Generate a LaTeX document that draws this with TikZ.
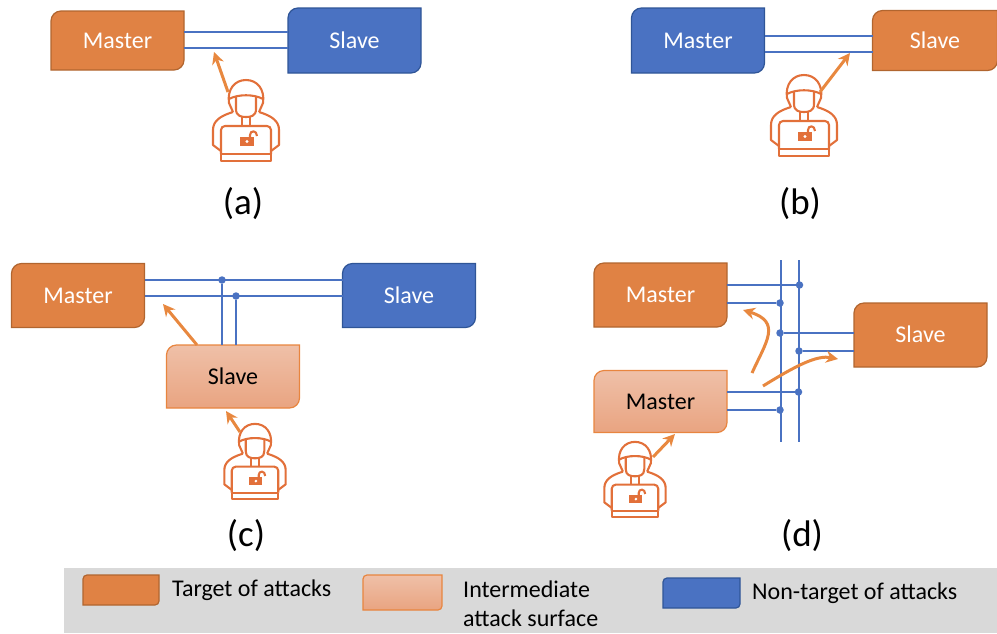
\documentclass[tikz,border=0pt]{standalone}
\usepackage{fontspec}
\setmainfont{Carlito}
\usetikzlibrary{positioning, arrows.meta}
\definecolor{targetfill}{HTML}{E08244}
\definecolor{targetline}{HTML}{B1652F}
\definecolor{safefill}{HTML}{4A72C2}
\definecolor{safeline}{HTML}{2F5597}
\definecolor{peachtop}{HTML}{EFC0A8}
\definecolor{peachbot}{HTML}{E9A481}
\definecolor{peachline}{HTML}{E8853F}
\definecolor{hackline}{HTML}{E2703A}
\definecolor{attackline}{HTML}{E8883F}
\definecolor{busline}{HTML}{4A72C2}
\definecolor{legendgrey}{HTML}{D9D9D9}

\makeatletter
\def\platerad{10pt}
\pgfdeclareshape{plate}{
  \inheritsavedanchors[from=rectangle]
  \inheritanchorborder[from=rectangle]
  \inheritanchor[from=rectangle]{center}
  \inheritanchor[from=rectangle]{north}
  \inheritanchor[from=rectangle]{south}
  \inheritanchor[from=rectangle]{east}
  \inheritanchor[from=rectangle]{west}
  \backgroundpath{
    \southwest \pgf@xa=\pgf@x \pgf@ya=\pgf@y
    \northeast \pgf@xb=\pgf@x \pgf@yb=\pgf@y
    \pgfpathmoveto{\pgfqpoint{\pgf@xa}{\pgf@ya}}
    \pgfpathlineto{\pgfpoint{\pgf@xa}{\pgf@yb-\platerad}}
    \pgfpatharc{180}{90}{\platerad}
    \pgfpathlineto{\pgfqpoint{\pgf@xb}{\pgf@yb}}
    \pgfpathlineto{\pgfpoint{\pgf@xb}{\pgf@ya+\platerad}}
    \pgfpatharc{0}{-90}{\platerad}
    \pgfpathclose
  }
}
\makeatother

\tikzset{
  box/.style={shape=plate, minimum width=133pt, minimum height=#1, inner sep=0pt, outer sep=0pt,
    line width=1.2pt, font=\fontsize{24}{28}\selectfont, text height=15.5pt, text depth=0pt},
  box/.default=64pt,
  target/.style={fill=targetfill, draw=targetline, text=white},
  safe/.style={fill=safefill, draw=safeline, text=white},
  inter/.style={top color=peachtop, bottom color=peachbot, draw=peachline, text=black},
  swatch/.style={shape=plate, inner sep=0pt, outer sep=0pt, line width=1.2pt,
    plate radius=4pt, minimum width=#1},
  plate radius/.code={\def\platerad{#1}},
  bus/.style={busline, line width=1.4pt},
  dotn/.style={circle, fill=busline, inner sep=0pt, minimum size=7.5pt},
  attack/.style={attackline, line width=3pt, -{Stealth[length=12pt, width=12pt]}},
  caption/.style={font=\fontsize{37}{42}\selectfont},
  legtext/.style={anchor=west, inner sep=0pt, font=\fontsize{24}{29}\selectfont},
  hacker/.pic={
    \begin{scope}[hackline, line width=2.1pt, line join=round]
      \draw (-13,-9) -- (-17,-18) .. controls (-19,-32) and (-11,-41) .. (0,-41)
        .. controls (11,-41) and (19,-32) .. (17,-18) -- (13,-9);
      \draw (-17,-22) .. controls (-8,-27) and (8,-27) .. (17,-22);
      \draw (-10,-24) -- (-10,-12) .. controls (-10,-5) and (-5,-4) .. (0,-4)
        .. controls (5,-4) and (10,-5) .. (10,-12) -- (10,-24);
      \draw (-13,-9) .. controls (-26,-5) and (-33,0) .. (-33,9) -- (-33,24) -- (-25,30);
      \draw (13,-9) .. controls (26,-5) and (33,0) .. (33,9) -- (33,24) -- (25,30);
      \draw (-4,-4) -- (-4,5) (4,-4) -- (4,5);
      \draw[rounded corners=4pt] (-25,33) -- (-25,5) -- (25,5) -- (25,33);
      \draw (-25,33) rectangle (25,40);
      \fill (-6,16) rectangle (8,25);
      \fill[white] (1,20.5) circle (1.6);
      \draw (4,17) -- (4,14) .. controls (4,9) and (11,9) .. (11,15);
    \end{scope}
  }
}

\begin{document}
\begin{tikzpicture}[x=1pt, y=-1pt]
  \useasboundingbox (0,0) rectangle (997,633);
  %--------------------------- (a)
  \node[box=59pt, target] (masterA) at (117.5,40.5) {Master};
  \node[box=65pt, safe, right=104pt of masterA] (slaveA) {Slave};
  \draw[bus] ([yshift=8.5pt]masterA.east) -- ([yshift=8.5pt]slaveA.west);
  \draw[bus] ([yshift=-7.5pt]masterA.east) -- ([yshift=-7.5pt]slaveA.west);
  \pic at (246,121) {hacker};
  \coordinate (fromA) at (228,92);
  \coordinate (toA) at (214,52);
  \draw[attack] (fromA) -- (toA);
  \node[caption] (capA) at (243,204) {(a)};
  %--------------------------- (b)
  \node[box=65pt, safe] (masterB) at (698,40.5) {Master};
  \node[box=60pt, target, minimum width=125pt, right=108pt of masterB] (slaveB) {Slave};
  \draw[bus] ([yshift=4.5pt]masterB.east) -- ([yshift=4.5pt]slaveB.west);
  \draw[bus] ([yshift=-11.5pt]masterB.east) -- ([yshift=-11.5pt]slaveB.west);
  \pic at (804,116) {hacker};
  \coordinate (fromB) at (820,92);
  \coordinate (toB) at (850,53);
  \draw[attack] (fromB) -- (toB);
  \node[caption] (capB) at (800,204) {(b)};
  %--------------------------- (c)
  \node[box, target] (masterC) at (78,295.5) {Master};
  \node[box, safe, right=198pt of masterC] (slaveC) {Slave};
  \node[box=63pt, inter] (slaveI) at (233,376.5) {Slave};
  \node[dotn] (dotC1) at (222,280) {};
  \node[dotn] (dotC2) at (236,296) {};
  \draw[bus] (dotC1 -| masterC.east) -- (dotC1 -| slaveC.west);
  \draw[bus] (dotC2 -| masterC.east) -- (dotC2 -| slaveC.west);
  \draw[bus] (dotC1) -- (dotC1 |- slaveI.north);
  \draw[bus] (dotC2) -- (dotC2 |- slaveI.north);
  \pic[scale=.93] at (255,462) {hacker};
  \coordinate (fromC1) at (197,345);
  \coordinate (toC1) at (163,304);
  \coordinate (fromC2) at (240,432);
  \coordinate (toC2) at (226,411);
  \draw[attack] (fromC1) -- (toC1);
  \draw[attack] (fromC2) -- (toC2);
  \node[caption] (capC) at (246,536) {(c)};
  %--------------------------- (d)
  \node[box, target] (masterD) at (660.5,295) {Master};
  \node[box, target] (slaveD) at (920.5,335) {Slave};
  \node[box=62pt, inter] (masterI) at (660.5,401.5) {Master};
  \coordinate (topD1) at (781,260);
  \coordinate (botD1) at (781,442);
  \coordinate (topD2) at (799,260);
  \coordinate (botD2) at (799,442);
  \draw[bus] (topD1) -- (botD1);
  \draw[bus] (topD2) -- (botD2);
  \node[dotn] (dotD1) at (799.5,285) {};
  \node[dotn] (dotD2) at (780,303) {};
  \node[dotn] (dotD3) at (780,333) {};
  \node[dotn] (dotD4) at (799,351) {};
  \node[dotn] (dotD5) at (798.5,392) {};
  \node[dotn] (dotD6) at (780,410) {};
  \draw[bus] (masterD.east |- dotD1) -- (dotD1);
  \draw[bus] (masterD.east |- dotD2) -- (dotD2);
  \draw[bus] (dotD3) -- (dotD3 -| slaveD.west);
  \draw[bus] (dotD4) -- (dotD4 -| slaveD.west);
  \draw[bus] (masterI.east |- dotD5) -- (dotD5);
  \draw[bus] (masterI.east |- dotD6) -- (dotD6);
  \pic[scale=.93] at (635,480) {hacker};
  \coordinate (fromD1) at (653,457);
  \coordinate (toD1) at (675,434);
  \coordinate (fromD2) at (752,373);
  \coordinate (toD2) at (743,310);
  \coordinate (fromD3) at (763,386);
  \coordinate (toD3) at (838,359);
  \draw[attack] (fromD1) -- (toD1);
  \draw[attack] (fromD2) .. controls (766,342) and (782,322) .. (toD2);
  \draw[attack] (fromD3) .. controls (797,365) and (817,355) .. (toD3);
  \node[caption] (capD) at (802,536) {(d)};
  %--------------------------- legend
  \node[fill=legendgrey, minimum width=933pt, minimum height=65pt, inner sep=0pt, anchor=north west] (legend) at (64,568) {};
  \node[swatch=76pt, minimum height=30pt, fill=targetfill, draw=targetline] (keyT) at (121,590) {};
  \node[swatch=79pt, minimum height=35pt, top color=peachtop, bottom color=peachbot, draw=peachline] (keyI) at (402.5,592.5) {};
  \node[swatch=77pt, minimum height=30pt, fill=safefill, draw=safeline] (keyN) at (701.5,593) {};
  \node[legtext] (textT) at (172,590) {Target of attacks};
  \node[legtext, align=left] (textI) at (463,604) {Intermediate\\attack surface};
  \node[legtext] (textN) at (752,593) {Non-target of attacks};
\end{tikzpicture}
\end{document}
